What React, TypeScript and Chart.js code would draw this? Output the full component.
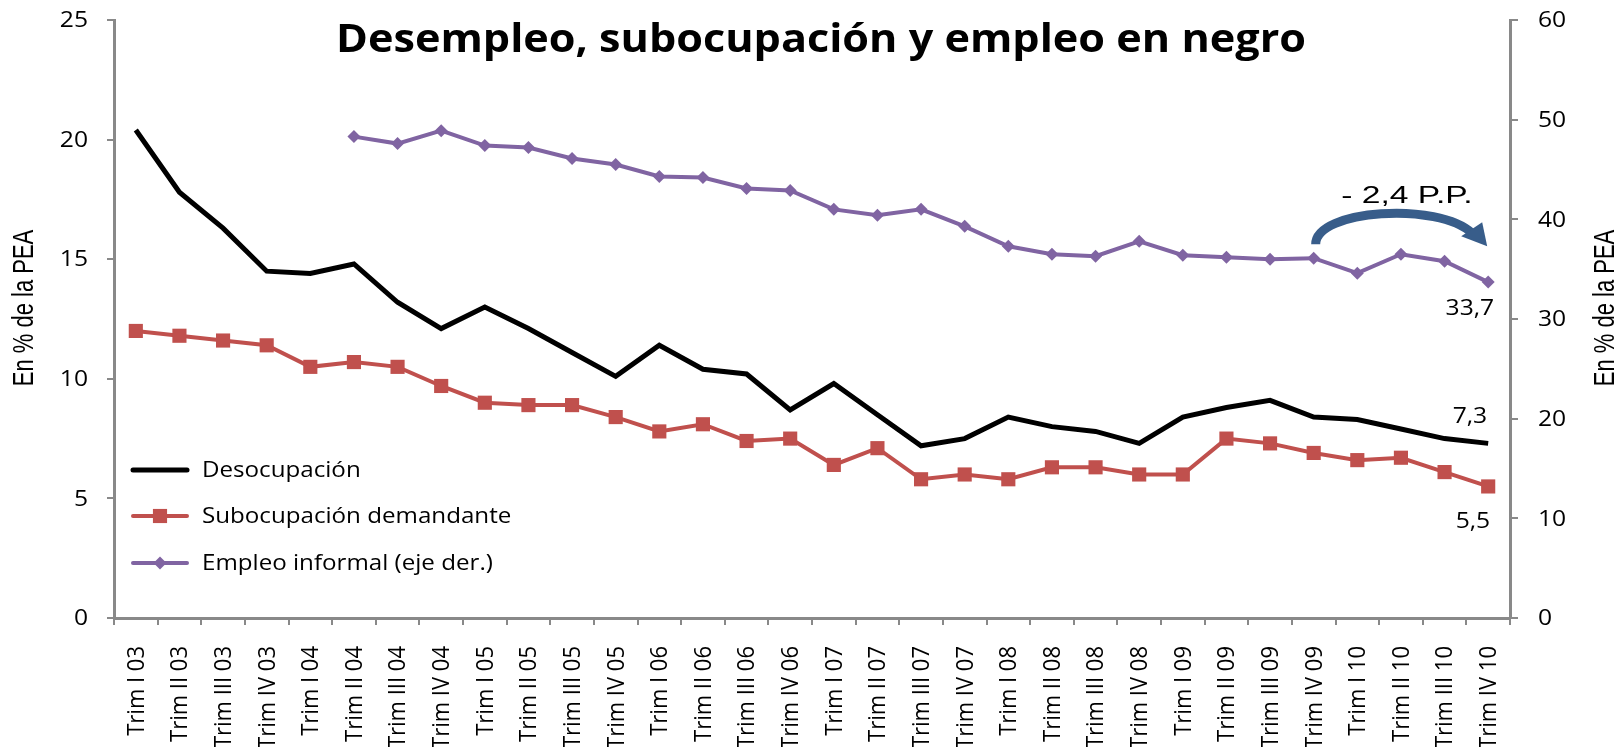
import React, { useEffect, useRef } from 'react';
import { Chart, registerables } from 'chart.js';

Chart.register(...registerables);

const categories = [
  'Trim I 03', 'Trim II 03', 'Trim III 03', 'Trim IV 03',
  'Trim I 04', 'Trim II 04', 'Trim III 04', 'Trim IV 04',
  'Trim I 05', 'Trim II 05', 'Trim III 05', 'Trim IV 05',
  'Trim I 06', 'Trim II 06', 'Trim III 06', 'Trim IV 06',
  'Trim I 07', 'Trim II 07', 'Trim III 07', 'Trim IV 07',
  'Trim I 08', 'Trim II 08', 'Trim III 08', 'Trim IV 08',
  'Trim I 09', 'Trim II 09', 'Trim III 09', 'Trim IV 09',
  'Trim I 10', 'Trim II 10', 'Trim III 10', 'Trim IV 10',
];

const desocupacion = [
  20.4, 17.8, 16.3, 14.5, 14.4, 14.8, 13.2, 12.1, 13.0, 12.1, 11.1, 10.1,
  11.4, 10.4, 10.2, 8.7, 9.8, 8.5, 7.2, 7.5, 8.4, 8.0, 7.8, 7.3,
  8.4, 8.8, 9.1, 8.4, 8.3, 7.9, 7.5, 7.3,
];

const subocupacion = [
  12.0, 11.8, 11.6, 11.4, 10.5, 10.7, 10.5, 9.7, 9.0, 8.9, 8.9, 8.4,
  7.8, 8.1, 7.4, 7.5, 6.4, 7.1, 5.8, 6.0, 5.8, 6.3, 6.3, 6.0,
  6.0, 7.5, 7.3, 6.9, 6.6, 6.7, 6.1, 5.5,
];

const informal = [
  null, null, null, null, null, 48.3, 47.6, 48.9, 47.4, 47.2, 46.1, 45.5,
  44.3, 44.2, 43.1, 42.9, 41.0, 40.4, 41.0, 39.3, 37.3, 36.5, 36.3, 37.8,
  36.4, 36.2, 36.0, 36.1, 34.6, 36.5, 35.8, 33.7,
];

const seriesNames = ['Desocupación', 'Subocupación demandante', 'Empleo informal (eje der.)'];
const leftTicks = [0, 5, 10, 15, 20, 25];
const rightTicks = [0, 10, 20, 30, 40, 50, 60];
const TITLE = 'Desempleo, subocupación y empleo en negro';
const AXIS_TITLE = 'En % de la PEA';
const ARROW_TEXT = '- 2,4 P.P.';
const ARROW_FROM = 27; // Trim IV 09
const ARROW_TO = 31; // Trim IV 10

const BLACK = '#000000';
const RED = '#C0504D';
const PURPLE = '#8064A2';
const ARROW = '#385D8A';
const AXIS = '#898989';
const FONT = '"Open Sans", Lato, sans-serif';
const ARIAL = '"Liberation Sans", Arial, sans-serif';

const fmt = (v: number) => v.toFixed(1).replace('.', ',');

function drawText(
  ctx: CanvasRenderingContext2D, text: string, x: number, y: number,
  font: string, align: CanvasTextAlign, baseline: CanvasTextBaseline, sx: number,
) {
  ctx.save();
  ctx.font = font;
  ctx.textAlign = align;
  ctx.textBaseline = baseline;
  ctx.fillStyle = '#000';
  ctx.translate(x, y);
  ctx.scale(sx, 1);
  ctx.fillText(text, 0, 0);
  ctx.restore();
}

function drawVerticalText(
  ctx: CanvasRenderingContext2D, text: string, x: number, y: number,
  font: string, align: CanvasTextAlign, sy: number,
) {
  ctx.save();
  ctx.font = font;
  ctx.textAlign = align;
  ctx.textBaseline = 'middle';
  ctx.fillStyle = '#000';
  ctx.translate(x, y);
  ctx.rotate(-Math.PI / 2);
  ctx.scale(1, sy);
  ctx.fillText(text, 0, 0);
  ctx.restore();
}

function drawMarker(ctx: CanvasRenderingContext2D, style: string, x: number, y: number, r: number, color: string) {
  ctx.fillStyle = color;
  ctx.beginPath();
  if (style === 'rect') {
    const s = Math.SQRT1_2 * r;
    ctx.rect(x - s, y - s, 2 * s, 2 * s);
  } else if (style === 'rectRot') {
    ctx.moveTo(x - r, y);
    ctx.lineTo(x, y - r);
    ctx.lineTo(x + r, y);
    ctx.lineTo(x, y + r);
    ctx.closePath();
  }
  ctx.fill();
}

const overlayPlugin = {
  id: 'overlay',
  afterDatasetsDraw(chart: any) {
    const { ctx, chartArea, scales } = chart;
    const xs = scales.x;
    const yl = scales.y;
    const yr = scales.y1;
    ctx.save();

    // Tick labels (stretched like the original)
    const tf = `22px ${FONT}`;
    leftTicks.forEach((v) => {
      drawText(ctx, String(v), chartArea.left - 26, yl.getPixelForValue(v) + 1, tf, 'right', 'middle', 1.12);
    });
    rightTicks.forEach((v) => {
      drawText(ctx, String(v), chartArea.right + 28, yr.getPixelForValue(v) + 1, tf, 'left', 'middle', 1.12);
    });
    categories.forEach((c, i) => {
      drawVerticalText(ctx, c, xs.getPixelForValue(i) + 1, chartArea.bottom + 28, tf, 'right', 1.1);
    });

    // Title
    ctx.font = `bold 40px ${FONT}`;
    const tw = ctx.measureText(TITLE).width;
    drawText(ctx, TITLE, chartArea.left + 222, 52, `bold 40px ${FONT}`, 'left', 'alphabetic', 970 / tw);

    // Axis titles
    const midY = (chartArea.top + chartArea.bottom) / 2 - 11;
    drawVerticalText(ctx, AXIS_TITLE, 25.5, midY, `22px ${ARIAL}`, 'center', 1.3);
    drawVerticalText(ctx, AXIS_TITLE, chart.width - 15, midY, `22px ${ARIAL}`, 'center', 1.3);

    // Legend
    const styles = [
      { color: BLACK, width: 5, marker: '', r: 0 },
      { color: RED, width: 4, marker: 'rect', r: 10 },
      { color: PURPLE, width: 4, marker: 'rectRot', r: 6.5 },
    ];
    const legendY = [470, 516, 563];
    seriesNames.forEach((name, i) => {
      const st = styles[i];
      const y = legendY[i];
      const x0 = chartArea.left + 19;
      const x1 = chartArea.left + 73;
      ctx.strokeStyle = st.color;
      ctx.lineWidth = st.width;
      ctx.lineCap = 'round';
      ctx.beginPath();
      ctx.moveTo(x0, y);
      ctx.lineTo(x1, y);
      ctx.stroke();
      if (st.marker) drawMarker(ctx, st.marker, (x0 + x1) / 2, y, st.r, st.color);
      drawText(ctx, name, x1 + 15, y + 1, `21px ${FONT}`, 'left', 'middle', 1.15);
    });

    // End-value labels
    const last = categories.length - 1;
    const xl = xs.getPixelForValue(last);
    const lf = `22px ${FONT}`;
    drawText(ctx, fmt(desocupacion[last]), xl - 1, yl.getPixelForValue(desocupacion[last]) - 27, lf, 'right', 'middle', 1.12);
    drawText(ctx, fmt(subocupacion[last]), xl + 2, yl.getPixelForValue(subocupacion[last]) + 35, lf, 'right', 'middle', 1.12);
    drawText(ctx, fmt(informal[last] as number), xl + 6, yr.getPixelForValue(informal[last] as number) + 27, lf, 'right', 'middle', 1.12);

    // Curved arrow
    const ax1 = xs.getPixelForValue(ARROW_FROM);
    const ax2 = xs.getPixelForValue(ARROW_TO);
    const ay1 = yr.getPixelForValue(37.5);
    const ayTop = yr.getPixelForValue(41.2);
    const ayEnd = yr.getPixelForValue(38.6);
    ctx.strokeStyle = ARROW;
    ctx.lineWidth = 9;
    ctx.lineCap = 'butt';
    ctx.beginPath();
    ctx.moveTo(ax1 + 2, ay1);
    ctx.bezierCurveTo(ax1 + 2, ayTop + 2, ax2 - 50, ayTop - 6, ax2 - 16, ayEnd);
    ctx.stroke();
    ctx.fillStyle = ARROW;
    ctx.beginPath();
    ctx.moveTo(ax2 - 1, yr.getPixelForValue(37.3));
    ctx.lineTo(ax2 - 27, yr.getPixelForValue(38.3));
    ctx.lineTo(ax2 - 6, yr.getPixelForValue(39.7));
    ctx.closePath();
    ctx.fill();

    drawText(ctx, ARROW_TEXT, (ax1 + ax2) / 2 + 6, yr.getPixelForValue(41.6), `24px ${ARIAL}`, 'center', 'alphabetic', 1.4);

    ctx.restore();
  },
};

export default function App() {
  const ref = useRef<HTMLCanvasElement | null>(null);

  useEffect(() => {
    document.body.style.margin = '0';
    const canvas = ref.current;
    if (!canvas) return;
    const chart = new Chart(canvas, {
      type: 'line',
      data: {
        labels: categories,
        datasets: [
          {
            label: seriesNames[0],
            data: desocupacion,
            borderColor: BLACK,
            backgroundColor: BLACK,
            borderWidth: 5,
            pointRadius: 0,
            tension: 0,
            yAxisID: 'y',
            order: 1,
          },
          {
            label: seriesNames[1],
            data: subocupacion,
            borderColor: RED,
            backgroundColor: RED,
            borderWidth: 4,
            pointStyle: 'rect',
            pointRadius: 10,
            pointBorderWidth: 0,
            tension: 0,
            yAxisID: 'y',
            order: 2,
          },
          {
            label: seriesNames[2],
            data: informal,
            borderColor: PURPLE,
            backgroundColor: PURPLE,
            borderWidth: 4,
            pointStyle: 'rectRot',
            pointRadius: 6.5,
            pointBorderWidth: 0,
            tension: 0,
            spanGaps: false,
            yAxisID: 'y1',
            order: 3,
          },
        ],
      },
      options: {
        responsive: false,
        animation: false,
        layout: { padding: { top: 20, left: 0, right: 0, bottom: 0 } },
        plugins: {
          legend: { display: false },
          title: { display: false },
          tooltip: { enabled: false },
        },
        scales: {
          x: {
            type: 'category',
            offset: true,
            grid: {
              display: true,
              drawOnChartArea: false,
              offset: true,
              tickLength: 7,
              color: AXIS,
              lineWidth: 2,
            },
            border: { color: AXIS, width: 3 },
            ticks: { display: false, autoSkip: false },
            afterFit: (s: any) => { s.height = 129; },
          },
          y: {
            position: 'left',
            min: 0,
            max: 25,
            afterBuildTicks: (s: any) => { s.ticks = leftTicks.map((v) => ({ value: v })); },
            grid: { drawOnChartArea: false, tickLength: 7, color: AXIS, lineWidth: 2 },
            border: { color: AXIS, width: 3 },
            ticks: { display: false },
            title: { display: false },
            afterFit: (s: any) => { s.width = 114; },
          },
          y1: {
            position: 'right',
            min: 0,
            max: 60,
            afterBuildTicks: (s: any) => { s.ticks = rightTicks.map((v) => ({ value: v })); },
            grid: { drawOnChartArea: false, tickLength: 8, color: AXIS, lineWidth: 2 },
            border: { color: AXIS, width: 3 },
            ticks: { display: false },
            title: { display: false },
            afterFit: (s: any) => { s.width = 111; },
          },
        },
      },
      plugins: [overlayPlugin],
    });
    return () => chart.destroy();
  }, []);

  return (
    <div style={{ position: 'absolute', left: 0, top: 0, width: 1621, height: 747, background: '#fff', overflow: 'hidden' }}>
      <canvas ref={ref} width={1621} height={747} style={{ width: 1621, height: 747, display: 'block' }} />
    </div>
  );
}
